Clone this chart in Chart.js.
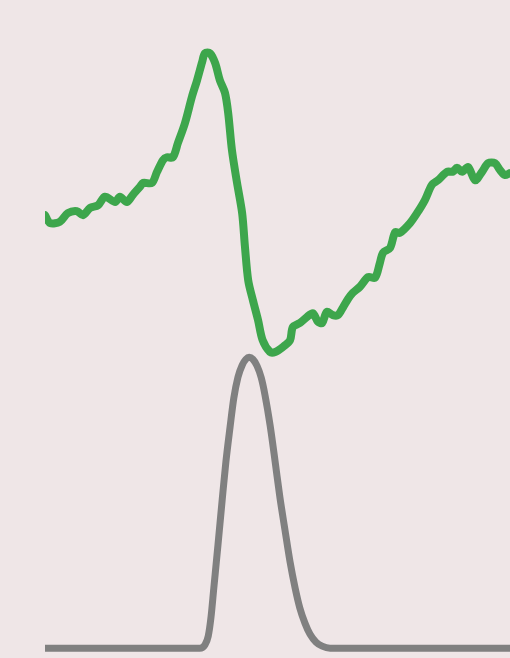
<!DOCTYPE html>
<html>
<head>
<meta charset="utf-8">
<script src="https://cdn.jsdelivr.net/npm/chart.js@4/dist/chart.umd.min.js"></script>
<style>
  html, body { margin: 0; padding: 0; background: #efe6e7; }
  #wrap { width: 510px; height: 658px; position: relative; }
</style>
</head>
<body>
<div id="wrap"><canvas id="c"></canvas></div>
<script>
// Green trace: noisy signal with a sharp peak and a deep trough
const greenX = [0, 1.1, 3.2, 4.9, 6.9, 8.2, 9.7, 11.4, 12.9, 15.1, 16.1, 17.6, 18.9, 20.4, 21.1, 23.0, 24.1, 25.4, 26.2, 27.5,
  28.6, 30.1, 31.6, 32.7, 33.8, 34.4, 35.5, 36.6, 37.6, 38.7, 39.4, 40.2, 41.3, 42.4, 43.0, 43.7, 44.7, 45.8, 46.8, 48.4,
  49.5, 51.2, 52.7, 53.3, 54.8, 56.3, 57.6, 58.7, 59.6, 60.6, 61.9, 63.0, 64.1, 65.2, 66.2, 67.7, 69.5, 71.0, 72.0, 72.7,
  74.2, 75.3, 76.3, 78.5, 80.0, 81.7, 83.2, 84.5, 86.5, 87.7, 88.6, 89.7, 91.0, 92.5, 94.0, 95.3, 96.8, 97.8, 98.9, 100];
const greenY = [67.3, 66.1, 66.3, 67.6, 67.9, 67.3, 68.4, 68.8, 70.1, 69.3, 70.1, 69.3, 70.4, 71.6, 72.2, 72.2, 73.9, 75.7, 76.1, 76.1,
  78.3, 81.3, 85.3, 87.8, 90.6, 91.9, 91.9, 90.4, 87.8, 85.9, 82.8, 77.2, 72.2, 67.6, 62.5, 57.4, 54.4, 51.4, 48.3, 46.5,
  46.5, 47.3, 48.3, 50.3, 50.9, 51.8, 52.4, 51.1, 50.9, 52.6, 52.1, 52.1, 53.3, 54.6, 55.5, 56.4, 57.9, 57.8, 60.0, 61.6,
  62.3, 64.7, 64.6, 66.1, 67.6, 69.6, 71.9, 72.6, 73.9, 73.9, 74.5, 73.9, 74.6, 72.6, 73.9, 75.2, 75.2, 74.2, 73.4, 73.7];

// Gray trace: single smooth pulse on a flat baseline
const grayX = [0, 10, 20, 30, 33.3, 34.4, 35.1, 35.7, 36.3, 37.2, 38.1, 38.9, 39.8, 40.6, 41.5, 42.4, 43.2, 43.9,
  44.7, 45.6, 46.5, 47.3, 48.4, 49.5, 50.5, 51.6, 52.7, 53.8, 54.8, 55.9, 57.0, 58.3, 59.6, 61.3, 70, 80, 90, 100];
const grayY = [1.5, 1.5, 1.5, 1.5, 1.5, 2.0, 3.3, 6.2, 10.6, 17.2, 24.0, 29.8, 35.1, 39.5, 42.7, 44.5, 45.4, 45.7,
  45.4, 44.4, 42.6, 40.0, 35.4, 29.8, 24.5, 19.5, 14.6, 10.6, 7.6, 5.3, 3.6, 2.4, 1.8, 1.5, 1.5, 1.5, 1.5, 1.5];

const toPoints = (xs, ys) => xs.map((x, i) => ({ x, y: ys[i] }));

new Chart(document.getElementById('c'), {
  type: 'line',
  data: {
    datasets: [
      {
        data: toPoints(greenX, greenY),
        borderColor: '#3da64c',
        borderWidth: 8,
        tension: 0.3,
        pointRadius: 0,
        borderCapStyle: 'round',
        borderJoinStyle: 'round',
        clip: 0
      },
      {
        data: toPoints(grayX, grayY),
        borderColor: '#808080',
        borderWidth: 7,
        cubicInterpolationMode: 'monotone',
        pointRadius: 0,
        borderCapStyle: 'round',
        borderJoinStyle: 'round',
        clip: 0
      }
    ]
  },
  options: {
    responsive: true,
    maintainAspectRatio: false,
    animation: false,
    layout: { padding: { left: 45, right: 0, top: 0, bottom: 0 } },
    plugins: { legend: { display: false }, tooltip: { enabled: false } },
    scales: {
      x: { type: 'linear', min: 0, max: 100, display: false },
      y: { type: 'linear', min: 0, max: 100, display: false }
    }
  }
});
</script>
</body>
</html>
